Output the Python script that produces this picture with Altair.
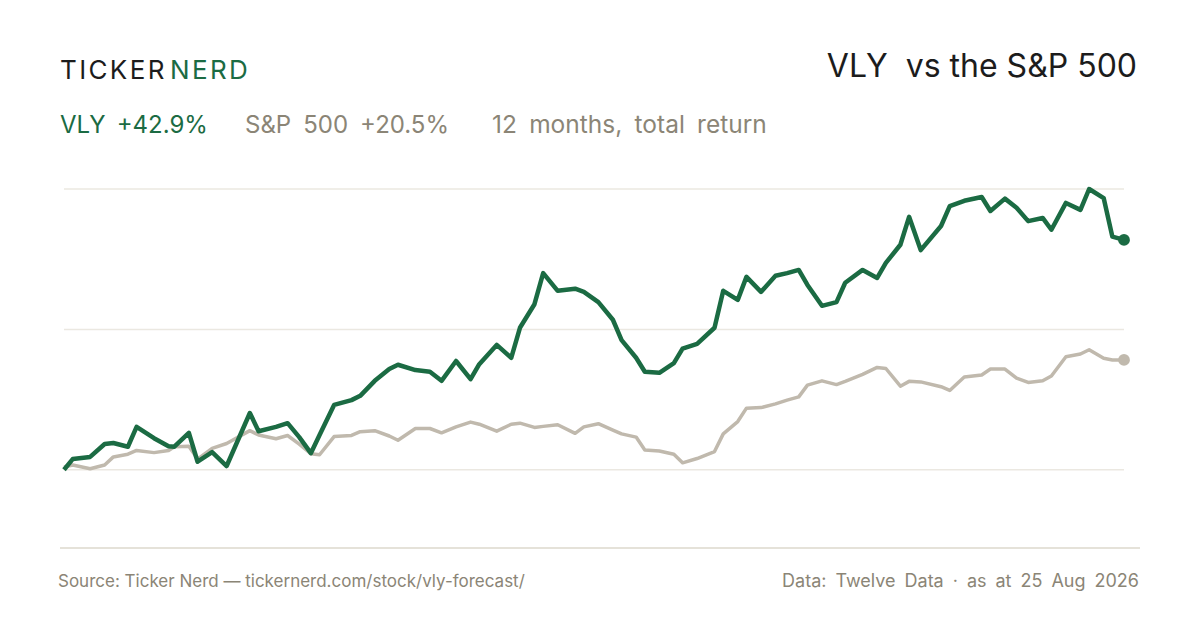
import altair as alt
import pandas as pd

# ---- data (days since 25 Aug 2025, total return %) ----
days = [0, 3, 9, 14, 17, 22, 25, 31, 36, 38, 43, 46, 51, 56, 64, 67, 73, 77, 81, 85,
        88, 93, 99, 102, 107, 112, 115, 121, 126, 130, 135, 140, 143, 149, 154, 157,
        162, 165, 170, 176, 179, 184, 189, 192, 197, 200, 205, 210, 213, 218, 224,
        227, 232, 235, 240, 245, 249, 253, 256, 261, 266, 269, 275, 280, 283, 288,
        291, 295, 302, 305, 310, 316, 319, 324, 328, 332, 337, 340, 345, 350, 353,
        358, 361, 365]

vly = [0.0, 2.0, 2.4, 4.8, 5.0, 4.3, 8.0, 5.9, 4.4, 4.3, 6.9, 1.5, 3.3, 0.7, 10.6,
       7.2, 8.0, 8.7, 6.1, 3.1, 6.5, 12.1, 13.0, 13.8, 16.6, 18.8, 19.6, 18.6, 18.3,
       16.6, 20.3, 16.9, 19.7, 23.3, 20.9, 26.5, 30.9, 36.7, 33.4, 33.8, 33.2, 31.3,
       28.0, 24.2, 20.9, 18.3, 18.1, 19.9, 22.6, 23.5, 26.5, 33.4, 31.7, 36.0, 33.2,
       36.2, 36.7, 37.3, 34.5, 30.6, 31.3, 34.9, 37.3, 35.8, 38.6, 42.0, 47.2, 41.0,
       45.5, 49.2, 50.2, 50.9, 48.3, 50.6, 48.9, 46.4, 47.0, 44.8, 49.8, 48.5, 52.4,
       50.7, 43.5, 42.9]

spx = [0.5, 0.9, 0.2, 0.9, 2.4, 2.9, 3.6, 3.2, 3.6, 4.3, 4.4, 2.0, 4.0, 4.9, 7.3,
       6.5, 5.8, 6.4, 4.8, 3.0, 2.8, 6.2, 6.4, 7.1, 7.3, 6.3, 5.5, 7.7, 7.7, 6.9,
       8.0, 8.9, 8.5, 7.2, 8.5, 8.7, 7.9, 8.1, 8.4, 6.8, 8.0, 8.6, 7.4, 6.7, 6.1,
       3.7, 3.5, 2.9, 1.3, 2.1, 3.4, 6.7, 9.0, 11.5, 11.6, 12.3, 13.0, 13.6, 15.8,
       16.6, 15.9, 16.5, 17.8, 19.1, 18.9, 15.6, 16.5, 16.4, 15.5, 14.8, 17.3, 17.7,
       18.8, 18.8, 17.1, 16.3, 16.6, 17.5, 21.1, 21.6, 22.4, 20.8, 20.5, 20.5]

series_names = ["VLY", "S&P 500"]
gridline_values = [0, 26.2, 52.4]

GREEN = "#1b6b43"
GREY_LINE = "#c0b9ad"
GREY_TEXT = "#8b8576"
INK = "#1c1c1c"
GRID = "#ebe8e1"
FONT = "Inter"

df_vly = pd.DataFrame({"day": days, "ret": vly, "series": series_names[0]})
df_spx = pd.DataFrame({"day": days, "ret": spx, "series": series_names[1]})
df_end = pd.concat([df_vly.tail(1), df_spx.tail(1)])
df_grid = pd.DataFrame({"ret": gridline_values})

x_enc = alt.X("day:Q", scale=alt.Scale(domain=[0, 365], nice=False, zero=False), axis=None)
y_scale = alt.Scale(domain=[-14.6, 52.4], nice=False, zero=False)
y_enc = alt.Y("ret:Q", scale=y_scale, axis=None)
color_scale = alt.Scale(domain=series_names, range=[GREEN, GREY_LINE])

grid = alt.Chart(df_grid).mark_rule(color=GRID, strokeWidth=1.5).encode(
    y=y_enc, x=alt.value(0), x2=alt.value(1060))
grey_line = alt.Chart(df_spx).mark_line(strokeWidth=3.5, strokeJoin="round", color=GREY_LINE).encode(
    x=x_enc, y=y_enc)
green_line = alt.Chart(df_vly).mark_line(strokeWidth=4.5, strokeJoin="round", color=GREEN).encode(
    x=x_enc, y=y_enc)
end_pts = alt.Chart(df_end).mark_circle(size=140, opacity=1).encode(
    x=x_enc, y=y_enc,
    color=alt.Color("series:N", scale=color_scale, legend=None))

separator = alt.Chart(pd.DataFrame({"k": [0]})).mark_rule(color="#dcd8cc", strokeWidth=1.5).encode(
    x=alt.value(-4), x2=alt.value(1076), y=alt.value(359))


def label(text, x, y, size, color, align="left", weight="normal"):
    return alt.Chart(pd.DataFrame({"t": [text]})).mark_text(
        align=align, baseline="alphabetic", font=FONT, fontSize=size, color=color,
        fontWeight=weight).encode(text="t:N", x=alt.value(x), y=alt.value(y))


EN = "\u2002"
texts = [
    label("T\u200aI\u200aC\u200aK\u200aE\u200aR", -4, -110, 26, INK),
    label("N\u200aE\u200aR\u200aD", 106, -110, 26, GREEN),
    label("VLY\u00a0 vs the S&P 500", 1073, -112, 32, INK, align="right"),
    label("VLY\u2009 +42.9%", -4, -56, 24, GREEN),
    label(EN.join(["S&P", "500", "+20.5%"]), 181, -56, 24, GREY_TEXT),
    label(EN.join(["12", "months,", "total", "return"]), 428, -56, 24.5, GREY_TEXT),
    label("Source: Ticker Nerd \u2014 tickernerd.com/stock/vly-forecast/", -6, 398, 17, GREY_TEXT),
    label(EN.join(["Data:", "Twelve", "Data", "\u00b7", "as", "at", "25", "Aug", "2026"]),
          1075, 398, 18, GREY_TEXT, align="right"),
]

chart = alt.layer(grid, grey_line, green_line, end_pts, separator, *texts).properties(
    width=1060, height=359,
    padding={"left": 56, "top": 181, "right": 68, "bottom": 74},
    autosize=alt.AutoSizeParams(type="none"),
    background="white",
).configure_view(stroke=None)

chart.save("out.html", embed_options={"renderer": "svg", "actions": False})
